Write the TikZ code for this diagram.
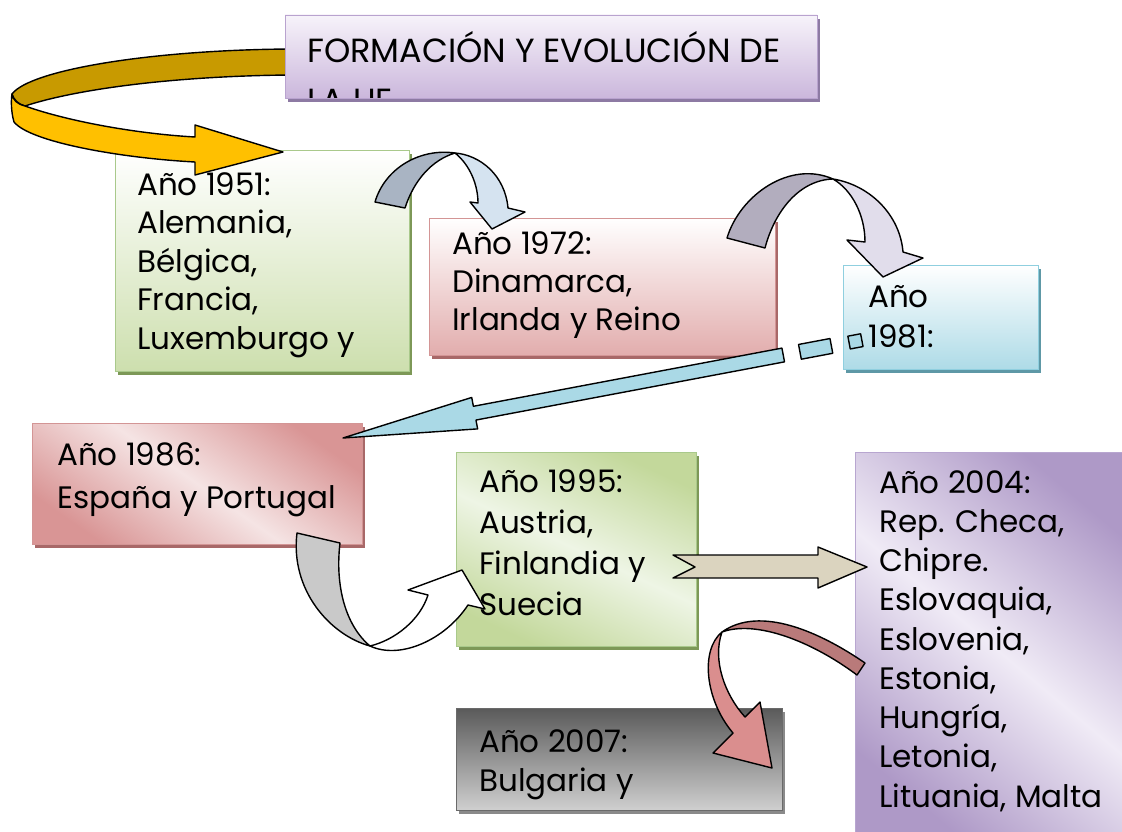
\documentclass[tikz,border=0pt]{standalone}
\usepackage{fontspec}
\setmainfont{Poppins}
\usetikzlibrary{shadows}
\definecolor{tTop}{HTML}{F7F3FA}\definecolor{tBot}{HTML}{CBB7DC}\definecolor{tBd}{HTML}{B9A3CF}\definecolor{tSh}{HTML}{8D7AA3}
\definecolor{gBot}{HTML}{CDDFAE}\definecolor{gBd}{HTML}{A9C98B}\definecolor{gSh}{HTML}{7D9857}
\definecolor{pBot}{HTML}{E2ADAD}\definecolor{pBd}{HTML}{D39595}\definecolor{pSh}{HTML}{A86868}
\definecolor{bBot}{HTML}{AEDBE7}\definecolor{bBd}{HTML}{8FCFDF}\definecolor{bSh}{HTML}{5E98A6}
\definecolor{p2Dk}{HTML}{D99595}\definecolor{p2Lt}{HTML}{F5E4E4}
\definecolor{g2Dk}{HTML}{C3D89B}\definecolor{g2Lt}{HTML}{EEF5E5}
\definecolor{vDk}{HTML}{AE99C7}\definecolor{vLt}{HTML}{F0EBF6}\definecolor{vBd}{HTML}{B8A6D0}
\definecolor{kDk}{HTML}{5A5A5A}\definecolor{kLt}{HTML}{CFCFCF}\definecolor{kSh}{HTML}{8A8A8A}\definecolor{kBd}{HTML}{6A6A6A}
\definecolor{goldDk}{HTML}{C89A00}\definecolor{goldLt}{HTML}{FFC000}
\definecolor{sDk}{HTML}{A9B4C3}\definecolor{sLt}{HTML}{D5E3F0}
\definecolor{lDk}{HTML}{B2ADBE}\definecolor{lLt}{HTML}{E1DDEB}
\definecolor{cyanA}{HTML}{AAD9E6}
\definecolor{grayA}{HTML}{C9C9C9}
\definecolor{beigeA}{HTML}{DBD4BF}
\definecolor{roseDk}{HTML}{B97A7A}\definecolor{roseLt}{HTML}{DA8E8E}
\begin{document}
\begin{tikzpicture}[x=1pt,y=-1pt,
  box/.style={line width=0.8pt, inner sep=0pt, outer sep=0pt, anchor=north west},
  shd/.style={general shadow={shadow xshift=3pt, shadow yshift=-4pt, fill=#1}},
  txt/.style={anchor=north west, inner sep=0pt, align=left, font=\fontsize{31}{#1}\selectfont},
  arr/.style={draw=black, line width=1.4pt, line join=round}]
\useasboundingbox (0,0) rectangle (1122,832);
% gold arrow back band (under title)
\path[arr, fill=goldDk] (290,49) .. controls (150,50) and (30,70) .. (12,94) .. controls (14,100) and (18,104) .. (25,106) .. controls (80,88) and (180,76) .. (290,75) -- cycle;
% title
\node[box, shd=tSh, draw=tBd, top color=tTop, bottom color=tBot, minimum width=532pt, minimum height=83pt] (title) at (285,15) {};
\begin{scope}
\clip (title.north west) rectangle (title.south east);
\node[txt=50, font=\fontsize{33.5}{50}\selectfont] (ttitle) at (307,27) {\strut FORMACIÓN Y EVOLUCIÓN DE\\LA UE};
\end{scope}
% boxes
\node[box, shd=gSh, draw=gBd, top color=white, bottom color=gBot, minimum width=294pt, minimum height=221pt] (b1951) at (115,150) {};
\node[box, shd=pSh, draw=pBd, top color=white, bottom color=pBot, minimum width=346pt, minimum height=137pt] (b1972) at (429,218) {};
\node[box, shd=bSh, draw=bBd, top color=white, bottom color=bBot, minimum width=195pt, minimum height=104pt] (b1981) at (843,265) {};
\node[box, shd=pSh, draw=pBd, top color=p2Dk, bottom color=p2Dk, middle color=p2Lt, shading angle=-35, minimum width=330pt, minimum height=121pt] (b1986) at (32,423) {};
\node[box, shd=gSh, draw=gBd, top color=g2Dk, bottom color=g2Dk, middle color=g2Lt, shading angle=-25, minimum width=240pt, minimum height=194pt] (b1995) at (456,452) {};
\node[box, draw=vBd, top color=vDk, bottom color=vDk, middle color=vLt, shading angle=-40, minimum width=275pt, minimum height=388pt] (b2004) at (855,452) {};
\node[box, shd=kSh, draw=kBd, top color=kDk, bottom color=kLt, minimum width=326pt, minimum height=102pt] (b2007) at (456,708) {};
% texts
\node[txt=38.5] (t1951) at (137,168) {\strut Año 1951:\\Alemania,\\Bélgica,\\Francia,\\Luxemburgo y};
\node[txt=38] (t1972) at (452,227.4) {\strut Año 1972:\\Dinamarca,\\Irlanda y Reino};
\node[txt=40] (t1981) at (868,279) {\strut Año\\1981:};
\node[txt=43] (t1986) at (57,434.9) {\strut Año 1986:\\España y Portugal};
\node[txt=41] (t1995) at (479,463.3) {\strut Año 1995:\\Austria,\\Finlandia y\\Suecia};
\node[txt=39.25] (t2004) at (879,465.5) {\strut Año 2004:\\Rep. Checa,\\Chipre.\\Eslovaquia,\\Eslovenia,\\Estonia,\\Hungría,\\Letonia,\\Lituania, Malta};
\node[txt=39] (t2007) at (479,724.7) {\strut Año 2007:\\Bulgaria y};
% gold arrow front band
\path[arr, fill=goldLt] (12,94) .. controls (13,100) and (17,104) .. (25,106) .. controls (70,122) and (140,134) .. (195,137) -- (195,125) -- (283,152) -- (195,175) -- (195,162) .. controls (120,158) and (30,142) .. (14,122) .. controls (11,112) and (11,100) .. (12,94) -- cycle;
% 1951 -> 1972
\path[arr, fill=sDk] (375,202) .. controls (385,168) and (420,148) .. (455,153) .. controls (432,160) and (414,180) .. (405,208) -- cycle;
\path[arr, fill=sLt] (455,153) .. controls (480,155) and (505,175) .. (508,208) -- (525,212) -- (492,229) -- (470,202) -- (478,203) .. controls (478,185) and (470,165) .. (455,153) -- cycle;
% 1972 -> 1981
\path[arr, fill=lDk] (727,238) .. controls (740,195) and (790,160) .. (833,179) .. controls (800,180) and (775,210) .. (765,248) -- cycle;
\path[arr, fill=lLt] (833,179) .. controls (870,185) and (900,215) .. (903,252) -- (923,258) -- (883,277) -- (847,240) -- (865,242) .. controls (865,215) and (852,190) .. (833,179) -- cycle;
% 1981 -> 1986
\begin{scope}[shift={(343,438)}, rotate=10.68]
\path[arr, fill=cyanA] (0,0) -- (134,-16) -- (134,-7) -- (448,-7) -- (448,7) -- (134,7) -- (134,16) -- cycle;
\path[arr, fill=cyanA] (465,-7.5) rectangle (497,7.5);
\path[arr, fill=cyanA] (515,-6.5) rectangle (528,6.5);
\end{scope}
% 1986 -> 1995
\path[arr, fill=grayA] (297,533) -- (340,543) .. controls (335,585) and (345,625) .. (370,646) .. controls (330,635) and (290,590) .. (297,533) -- cycle;
\path[arr, fill=white] (370,646) .. controls (395,640) and (420,620) .. (428,595) -- (408,590) -- (462,570) -- (485,609) -- (468,605) .. controls (445,640) and (400,660) .. (370,646) -- cycle;
% 1995 -> 2004
\path[arr, fill=beigeA] (673,555) -- (818,555) -- (818,547) -- (867,567) -- (818,588) -- (818,578) -- (673,578) -- (695,567) -- cycle;
% 2004 -> 2007
\path[arr, fill=roseDk] (865,663) .. controls (820,632) and (760,605) .. (722,632) .. controls (755,620) and (810,640) .. (857,675) -- cycle;
\path[arr, fill=roseLt] (722,632) .. controls (700,650) and (705,700) .. (733,733) -- (713,753) -- (772,768) -- (760,702) -- (745,717) .. controls (725,695) and (712,660) .. (722,632) -- cycle;
\end{tikzpicture}
\end{document}
